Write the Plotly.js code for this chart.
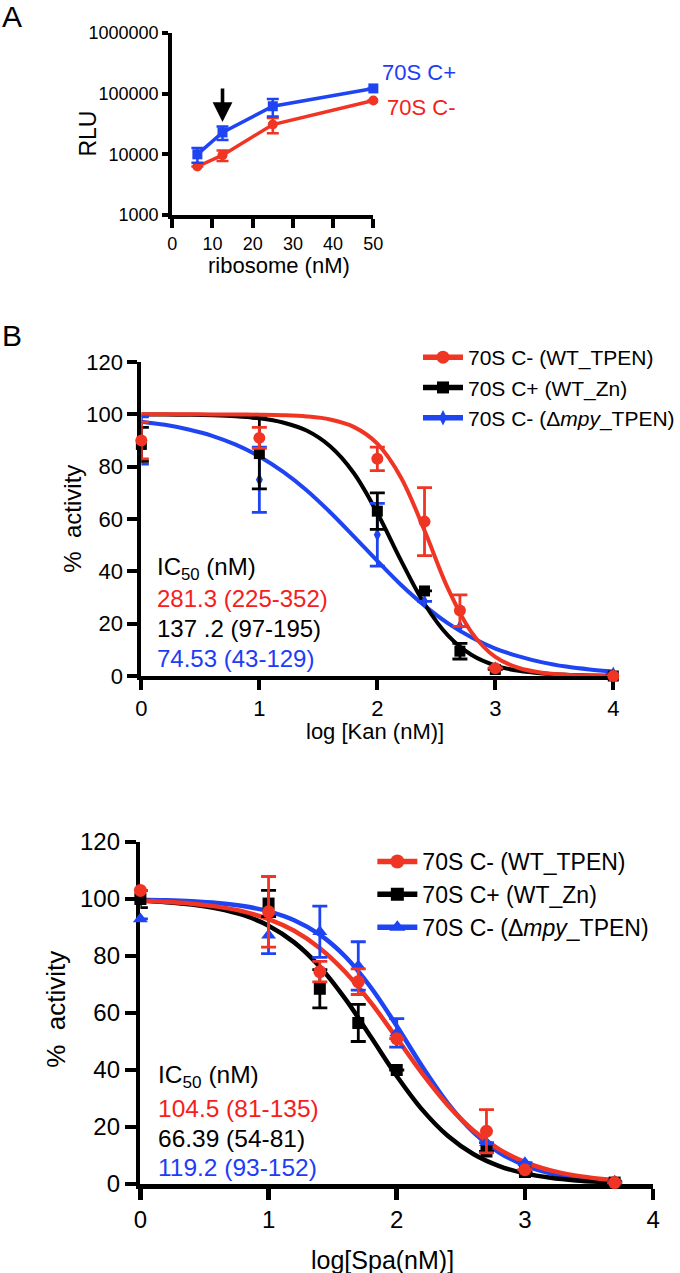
<!DOCTYPE html>
<html><head><meta charset="utf-8">
<script src="https://cdn.plot.ly/plotly-3.0.1.min.js"></script>
<style>html,body{margin:0;padding:0;background:#fff}</style>
</head><body><div id="chart" style="width:680px;height:1273px"></div>
<script>
// ---------- Panel A : luciferase signal vs ribosome ----------
const ribosomeNM = [6.25, 12.5, 25, 50];
const rluCplus = [10000, 23000, 62000, 122000];
const rluCplusErr = [2700, 5700, 20000, null];
const rluCminus = [6300, 9700, 31000, 77000];
const rluCminusErr = [null, 1900, 8800, null];
const arrowConc = 12.5;
const arrowTipRLU = 34000;
const rluTicks = [1000, 10000, 100000, 1000000];
const rluTickText = ['1000', '10000', '100000', '1000000'];
const riboTicks = [0, 10, 20, 30, 40, 50];

// ---------- Panel B : kanamycin ----------
const kanLog = [0, 1, 2, 2.4, 2.7, 3, 4];
const kanWT_TPEN = [90, 91, 83, 59, 25, 3, 0];
const kanWT_TPENErr = [7, 4, 4.5, 13, 6, null, null];
const kanWT_Zn = [88.5, 85, 63, 32.5, 9.5, 2.5, 0];
const kanWT_ZnErr = [6.5, 13.5, 7, null, 3, null, null];
const kanMpy_TPEN = [90, 75, 54, 28.5, 19, 3, 1];
const kanMpy_TPENErr = [9, 12.5, 12, null, null, null, null];
const kanFitX = [0, 0.2, 0.4, 0.6, 0.8, 1, 1.2, 1.4, 1.6, 1.8, 2, 2.2, 2.4, 2.6, 2.8, 3, 3.2, 3.4, 3.6, 3.8, 4];
const kanFitWT_TPEN = [100, 100, 99.99, 99.98, 99.95, 99.87, 99.68, 99.21, 98.04, 95.2, 88.8, 75.9, 55.6, 33.3, 16.6, 7.3, 3.05, 1.24, 0.5, 0.2, 0.08];
const kanFitWT_Zn = [99.96, 99.92, 99.83, 99.65, 99.28, 98.5, 96.9, 93.8, 87.8, 77.6, 62.3, 44.2, 27.5, 15.4, 8.0, 4.0, 1.95, 0.94, 0.45, 0.22, 0.1];
const kanFitMpy_TPEN = [97.2, 96.0, 94.2, 91.8, 88.4, 83.9, 78.1, 71.0, 62.6, 53.4, 44.0, 34.9, 26.9, 20.1, 14.7, 10.5, 7.5, 5.2, 3.6, 2.5, 1.7];
const kanIC50 = ['281.3 (225-352)', '137 .2 (97-195)', '74.53 (43-129)'];

// ---------- Panel C : spectinomycin ----------
const spaLog = [0, 1, 1.4, 1.7, 2, 2.7, 3, 3.7];
const spaWT_TPEN = [103, 95.5, 74.5, 71, 51, 18.5, 5, 0.5];
const spaWT_TPENErr = [null, 12.4, 3.6, 4.5, null, 7.6, null, null];
const spaWT_Zn = [100, 98.4, 68.5, 56.5, 40, 11.4, 4.2, 0.5];
const spaWT_ZnErr = [3, 4.6, 6.7, 6.5, null, null, null, null];
const spaMpy_TPEN = [93, 87.3, 88.5, 76.5, 53, 14.5, 7.5, 1];
const spaMpy_TPENErr = [null, 6.5, 9, 8.5, 5, null, null, null];
const spaFitX = [0, 0.2, 0.4, 0.6, 0.8, 1, 1.2, 1.4, 1.6, 1.8, 2, 2.2, 2.4, 2.6, 2.8, 3, 3.2, 3.4, 3.6, 3.7];
const spaFitWT_TPEN = [99.4, 99.01, 98.37, 97.32, 95.64, 92.96, 88.84, 82.75, 74.29, 63.53, 51.2, 38.74, 27.59, 18.67, 12.15, 7.69, 4.78, 2.94, 1.79, 1.4];
const spaFitWT_Zn = [99.35, 98.88, 98.07, 96.69, 94.39, 90.64, 84.78, 76.22, 64.85, 51.49, 37.92, 26.01, 16.83, 10.43, 6.28, 3.71, 2.17, 1.26, 0.73, 0.55];
const spaFitMpy_TPEN = [99.75, 99.55, 99.2, 98.59, 97.52, 95.68, 92.56, 87.5, 79.74, 68.87, 55.43, 41.17, 28.24, 18.12, 11.06, 6.54, 3.79, 2.16, 1.23, 0.93];
const spaIC50 = ['104.5 (81-135)', '66.39 (54-81)', '119.2 (93-152)'];

const pctTicks = [0, 20, 40, 60, 80, 100, 120];
const logTicks = [0, 1, 2, 3, 4];
const seriesNames = ['70S C- (WT_TPEN)', '70S C+ (WT_Zn)', '70S C- (\u0394<i>mpy</i>_TPEN)'];

// ---------- styling ----------
const FONT = 'Liberation Sans, Arial, Helvetica, sans-serif';
const RED = '#f03524', BLACK = '#000000', BLUE = '#1f44f2';
const RED_T = '#f5201c', BLUE_T = '#1e3cf7';
const W = 680, H = 1273;
const px = v => v / W;
const py = v => 1 - v / H;

const traces = [];

// Panel A
traces.push({x: ribosomeNM, y: rluCminus, xaxis: 'x', yaxis: 'y', mode: 'lines+markers', showlegend: false, cliponaxis: false,
  line: {color: RED, width: 3.5}, marker: {symbol: 'circle', size: 10, color: RED},
  error_y: {type: 'data', array: rluCminusErr, visible: true, color: RED, thickness: 2.5, width: 6}});
traces.push({x: ribosomeNM, y: rluCplus, xaxis: 'x', yaxis: 'y', mode: 'lines+markers', showlegend: false, cliponaxis: false,
  line: {color: BLUE, width: 3.5}, marker: {symbol: 'square', size: 10, color: BLUE},
  error_y: {type: 'data', array: rluCplusErr, visible: true, color: BLUE, thickness: 2.5, width: 6}});

function addPanel(ax, ay, xs, fitX, sets, legendId, symbols, msizes, lw) {
  [2, 1, 0].forEach(i => {
    traces.push({x: fitX, y: sets[i].fit, xaxis: ax, yaxis: ay, mode: 'lines', showlegend: false, cliponaxis: false,
      line: {color: sets[i].color, width: lw, shape: 'spline', smoothing: 1}, hoverinfo: 'skip'});
  });
  [2, 1, 0].forEach(i => {
    traces.push({x: xs, y: sets[i].y, xaxis: ax, yaxis: ay, mode: 'markers', showlegend: false, cliponaxis: false,
      marker: {symbol: symbols[i], size: msizes[i], color: sets[i].color},
      error_y: {type: 'data', array: sets[i].err, visible: true, color: sets[i].color, thickness: 2.8, width: 7.5}});
  });
  [0, 1, 2].forEach(i => {
    traces.push({x: [null], y: [null], xaxis: ax, yaxis: ay, mode: 'lines+markers', name: seriesNames[i], legend: legendId,
      line: {color: sets[i].color, width: 5.5}, marker: {symbol: symbols[i], size: msizes[i] + 1, color: sets[i].color}});
  });
}

addPanel('x2', 'y2', kanLog, kanFitX, [
  {y: kanWT_TPEN, err: kanWT_TPENErr, fit: kanFitWT_TPEN, color: RED},
  {y: kanWT_Zn, err: kanWT_ZnErr, fit: kanFitWT_Zn, color: BLACK},
  {y: kanMpy_TPEN, err: kanMpy_TPENErr, fit: kanFitMpy_TPEN, color: BLUE}
], 'legend', ['circle', 'square', 'diamond-tall'], [12, 11, 10], 4);

addPanel('x3', 'y3', spaLog, spaFitX, [
  {y: spaWT_TPEN, err: spaWT_TPENErr, fit: spaFitWT_TPEN, color: RED},
  {y: spaWT_Zn, err: spaWT_ZnErr, fit: spaFitWT_Zn, color: BLACK},
  {y: spaMpy_TPEN, err: spaMpy_TPENErr, fit: spaFitMpy_TPEN, color: BLUE}
], 'legend2', ['circle', 'square', 'triangle-up'], [13, 12, 13], 4.5);

function axis(extra) {
  return Object.assign({showline: true, linecolor: '#000', linewidth: 4, ticks: 'outside', tickcolor: '#000',
    tickwidth: 4, ticklen: 10, showgrid: false, zeroline: false, fixedrange: true,
    tickfont: {family: FONT, size: 22, color: '#000'}}, extra);
}

const annotations = [];
function txt(text, x, y, size, color, opts) {
  annotations.push(Object.assign({text: text, x: px(x), y: py(y), xref: 'paper', yref: 'paper', showarrow: false,
    xanchor: 'left', yanchor: 'middle', font: {family: FONT, size: size, color: color}}, opts || {}));
}
txt('A', 0, 17, 30, '#000');
txt('B', 0, 336, 30, '#000');
txt('70S C+', 382, 73, 22, BLUE_T);
txt('70S C-', 387, 108, 22, RED_T);
txt('RLU', 88, 134, 23, '#000', {xanchor: 'center', textangle: -90});
txt('ribosome (nM)', 280, 266, 22, '#000', {xanchor: 'center'});
annotations.push({x: arrowConc, y: Math.log10(arrowTipRLU), xref: 'x', yref: 'y', showarrow: true, text: '\u00a0',
  ax: 0, ay: -36, arrowhead: 2, arrowsize: 1.1, arrowwidth: 3.6, arrowcolor: '#000', font: {size: 2}});
txt('%\u00a0 activity', 72, 519, 24, '#000', {xanchor: 'center', textangle: -90});
txt('log [Kan (nM)]', 377, 731, 22, '#000', {xanchor: 'center'});
txt('IC<sub>50</sub> (nM)', 156, 568, 24, '#000');
txt(kanIC50[0], 156, 598, 24, RED_T);
txt(kanIC50[1], 156, 628, 24, '#000');
txt(kanIC50[2], 156, 658, 24, BLUE_T);
txt('%\u00a0 activity', 56, 1009, 26, '#000', {xanchor: 'center', textangle: -90});
txt('log[Spa(nM)]', 384, 1260, 25, '#000', {xanchor: 'center'});
txt('IC<sub>50</sub> (nM)', 157, 1076, 24.5, '#000');
txt(spaIC50[0], 157, 1108, 24.5, RED_T);
txt(spaIC50[1], 157, 1138, 24.5, '#000');
txt(spaIC50[2], 157, 1167, 24.5, BLUE_T);

const layout = {
  width: W, height: H, margin: {l: 0, r: 0, t: 0, b: 0}, paper_bgcolor: '#fff', plot_bgcolor: 'rgba(0,0,0,0)',
  font: {family: FONT, color: '#000'}, showlegend: true,
  xaxis: axis({domain: [px(173), px(375)], range: [0, 50], anchor: 'y', tickvals: riboTicks, ticklen: 9,
    tickfont: {family: FONT, size: 18, color: '#000'}}),
  yaxis: axis({domain: [py(215), py(33)], type: 'log', range: [3, 6], anchor: 'x', tickvals: rluTicks, ticktext: rluTickText,
    ticklen: 6, tickfont: {family: FONT, size: 18, color: '#000'}}),
  xaxis2: axis({domain: [px(142), px(616)], range: [0, 4], anchor: 'y2', tickvals: logTicks, layer: 'below traces'}),
  yaxis2: axis({domain: [py(676), py(362)], range: [0, 120], anchor: 'x2', tickvals: pctTicks, layer: 'below traces'}),
  xaxis3: axis({domain: [px(141), px(656)], range: [0, 4], anchor: 'y3', tickvals: logTicks, layer: 'below traces', linewidth: 4.5, tickwidth: 4.5, ticklen: 11,
    tickfont: {family: FONT, size: 24, color: '#000'}}),
  yaxis3: axis({domain: [py(1184), py(842)], range: [0, 120], anchor: 'x3', tickvals: pctTicks, layer: 'below traces', linewidth: 4.5, tickwidth: 4.5, ticklen: 11,
    tickfont: {family: FONT, size: 24, color: '#000'}}),
  legend: {x: px(420), y: py(337), xanchor: 'left', yanchor: 'top', bgcolor: 'rgba(0,0,0,0)', borderwidth: 0, itemwidth: 40,
    font: {family: FONT, size: 21, color: '#000'}, tracegroupgap: 0},
  legend2: {x: px(374), y: py(840), xanchor: 'left', yanchor: 'top', bgcolor: 'rgba(0,0,0,0)', borderwidth: 0, itemwidth: 40,
    font: {family: FONT, size: 23, color: '#000'}, tracegroupgap: 0},
  annotations: annotations
};

Plotly.newPlot('chart', traces, layout, {staticPlot: true, displayModeBar: false});
</script>
</body></html>
